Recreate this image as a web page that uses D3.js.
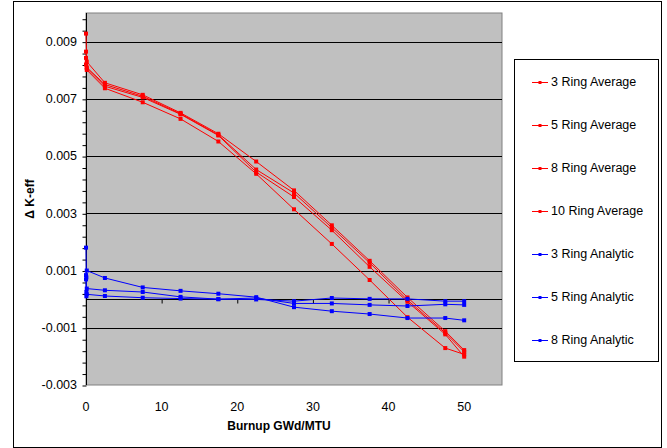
<!DOCTYPE html>
<html>
<head>
<meta charset="utf-8">
<script src="https://cdn.jsdelivr.net/npm/d3@7"></script>
<style>
  body { margin: 0; background: #fff; }
  text { font-family: "Liberation Sans", Arial, sans-serif; }
</style>
</head>
<body>
<div id="chart"></div>
<script>
// burnup points (GWd/MTU) shared by every series after the near-zero start
const burnup = [2.5, 7.5, 12.5, 17.5, 22.5, 27.5, 32.5, 37.5, 42.5, 47.5, 50];

// near-zero burnup points (several points stacked at x ~ 0)
const redStartX = [0, 0.1];
const blueStartX = [0, 0.05, 0.1];

const ring3AvgStart = [0.00928, 0.0083];
const ring5AvgStart = [0.00865, 0.0081];
const ring8AvgStart = [0.00843, 0.00807];
const ring10AvgStart = [0.0082, 0.00801];

const ring3Avg = [0.00756, 0.00714, 0.00651, 0.00578, 0.00481, 0.0038, 0.00258, 0.00134, 0.00006, -0.00112, -0.00178];
const ring5Avg = [0.0075, 0.00709, 0.00648, 0.00574, 0.00453, 0.00371, 0.0025, 0.00127, -0.00003, -0.00118, -0.00184];
const ring8Avg = [0.00744, 0.00705, 0.00646, 0.00572, 0.00444, 0.00357, 0.00241, 0.00113, -0.00009, -0.00123, -0.00201];
const ring10Avg = [0.00737, 0.00688, 0.0063, 0.00551, 0.00438, 0.00314, 0.00193, 0.00067, -0.00063, -0.00171, -0.00193];

const ring3AnaStart = [0.0018, 0.00076, 0.001];
const ring5AnaStart = [0.00084, 0.00025, 0.00037];
const ring8AnaStart = [0.00069, 0.0001, 0.00017];

const ring3Ana = [0.00074, 0.00041, 0.00029, 0.00019, 0.00007, -0.00028, -0.00042, -0.00052, -0.00066, -0.00066, -0.00074];
const ring5Ana = [0.00031, 0.00025, 0.00008, 0.0, 0.00004, -0.00015, -0.00015, -0.0002, -0.00024, -0.00018, -0.0002];
const ring8Ana = [0.00011, 0.00005, 0.00002, 0.0, -0.00001, -0.00007, 0.00004, 0.00001, 0.00001, -0.00007, -0.00007];

const seriesNames = ["3 Ring Average", "5 Ring Average", "8 Ring Average", "10 Ring Average",
                     "3 Ring Analytic", "5 Ring Analytic", "8 Ring Analytic"];

const yTickLabels = [-0.003, -0.001, 0.001, 0.003, 0.005, 0.007, 0.009];
const xTickLabels = [0, 10, 20, 30, 40, 50];

function build(startX, startY, vals) {
    return startX.map(function(x, i) { return [x, startY[i]]; })
        .concat(burnup.map(function(x, i) { return [x, vals[i]]; }));
}

const series = [
    { name: seriesNames[0], color: "#ff0000", pts: build(redStartX, ring3AvgStart, ring3Avg) },
    { name: seriesNames[1], color: "#ff0000", pts: build(redStartX, ring5AvgStart, ring5Avg) },
    { name: seriesNames[2], color: "#ff0000", pts: build(redStartX, ring8AvgStart, ring8Avg) },
    { name: seriesNames[3], color: "#ff0000", pts: build(redStartX, ring10AvgStart, ring10Avg) },
    { name: seriesNames[4], color: "#0000ff", pts: build(blueStartX, ring3AnaStart, ring3Ana) },
    { name: seriesNames[5], color: "#0000ff", pts: build(blueStartX, ring5AnaStart, ring5Ana) },
    { name: seriesNames[6], color: "#0000ff", pts: build(blueStartX, ring8AnaStart, ring8Ana) }
];

const width = 667;
const height = 448;
const plot = { left: 86, right: 502, top: 13, bottom: 385 };

const svg = d3.select("#chart")
    .append("svg")
    .attr("width", width)
    .attr("height", height);

// outer chart border
svg.append("rect")
    .attr("x", 13.5).attr("y", 1.5)
    .attr("width", 648).attr("height", 446)
    .attr("fill", "#fff")
    .attr("stroke", "#000")
    .attr("stroke-width", 1);

const x = d3.scaleLinear().domain([0, 55]).range([plot.left, plot.right]);
const y = d3.scaleLinear().domain([-0.003, 0.010]).range([plot.bottom, plot.top]);

// plot area
svg.append("rect")
    .attr("x", plot.left).attr("y", plot.top)
    .attr("width", plot.right - plot.left).attr("height", plot.bottom - plot.top)
    .attr("fill", "#c0c0c0")
    .attr("stroke", "#808080");

// gridlines at the labelled values
svg.append("g")
    .selectAll("line")
    .data(yTickLabels.slice(1))
    .join("line")
    .attr("x1", plot.left).attr("x2", plot.right)
    .attr("y1", function(d) { return Math.round(y(d)) + 0.5; })
    .attr("y2", function(d) { return Math.round(y(d)) + 0.5; })
    .attr("stroke", "#000");

// y axis with minor ticks every 0.0004
const minorTicks = d3.range(0, 33).map(function(i) { return -0.003 + i * 0.0004; });
const yAxis = svg.append("g")
    .attr("transform", "translate(" + (plot.left + 0.5) + ",0)");
yAxis.call(d3.axisLeft(y).tickValues(minorTicks).tickSize(4).tickFormat(""));
yAxis.select(".domain").attr("d", "M0," + plot.top + "V" + plot.bottom);
yAxis.selectAll(".tick line").attr("transform", "translate(0,0.5)");

svg.append("g")
    .selectAll("text")
    .data(yTickLabels)
    .join("text")
    .attr("x", 77)
    .attr("y", function(d) { return y(d); })
    .attr("dy", "0.35em")
    .attr("text-anchor", "end")
    .attr("font-size", 12.5)
    .text(function(d) { return d3.format(".3f")(d).replace("−", "-"); });

// x axis crossing at zero
const xAxis = svg.append("g")
    .attr("transform", "translate(0," + (Math.round(y(0)) + 0.5) + ")");
xAxis.call(d3.axisBottom(x).tickValues(xTickLabels).tickSize(4).tickFormat(""));
xAxis.select(".domain").attr("d", "M" + plot.left + ",0H" + plot.right);

svg.append("g")
    .selectAll("text")
    .data(xTickLabels)
    .join("text")
    .attr("x", function(d) { return x(d); })
    .attr("y", 411)
    .attr("text-anchor", "middle")
    .attr("font-size", 12.5)
    .text(function(d) { return d; });

// axis titles
svg.append("text")
    .attr("x", 279).attr("y", 430)
    .attr("text-anchor", "middle")
    .attr("font-size", 12)
    .attr("font-weight", "bold")
    .text("Burnup GWd/MTU");

svg.append("text")
    .attr("transform", "translate(34,199) rotate(-90)")
    .attr("text-anchor", "middle")
    .attr("font-size", 12)
    .attr("font-weight", "bold")
    .text("Δ K-eff");

// series lines and markers
const line = d3.line()
    .x(function(d) { return x(d[0]); })
    .y(function(d) { return y(d[1]); });

const marker = d3.symbol().type(d3.symbolSquare).size(16);

const sg = svg.append("g")
    .selectAll("g")
    .data(series)
    .join("g");

sg.append("path")
    .attr("d", function(d) { return line(d.pts); })
    .attr("fill", "none")
    .attr("stroke", function(d) { return d.color; })
    .attr("stroke-width", 1);

sg.selectAll("path.mk")
    .data(function(d) { return d.pts.map(function(p) { return { p: p, color: d.color }; }); })
    .join("path")
    .attr("class", "mk")
    .attr("d", marker)
    .attr("transform", function(d) { return "translate(" + x(d.p[0]) + "," + y(d.p[1]) + ")"; })
    .attr("fill", function(d) { return d.color; });

// legend
const legend = svg.append("g");
legend.append("rect")
    .attr("x", 514.5).attr("y", 59.5)
    .attr("width", 144).attr("height", 302)
    .attr("fill", "#fff")
    .attr("stroke", "#000");

const li = legend.selectAll("g.item")
    .data(series)
    .join("g")
    .attr("class", "item")
    .attr("transform", function(d, i) { return "translate(0," + (82 + i * 43) + ")"; });

li.append("line")
    .attr("x1", 532).attr("x2", 548)
    .attr("y1", 0.5).attr("y2", 0.5)
    .attr("stroke", function(d) { return d.color; });

li.append("path")
    .attr("d", d3.symbol().type(d3.symbolSquare).size(9))
    .attr("transform", "translate(540,0.5)")
    .attr("fill", function(d) { return d.color; });

li.append("text")
    .attr("x", 551).attr("y", 0)
    .attr("dy", "0.35em")
    .attr("font-size", 12.5)
    .text(function(d) { return d.name; });
</script>
</body>
</html>
